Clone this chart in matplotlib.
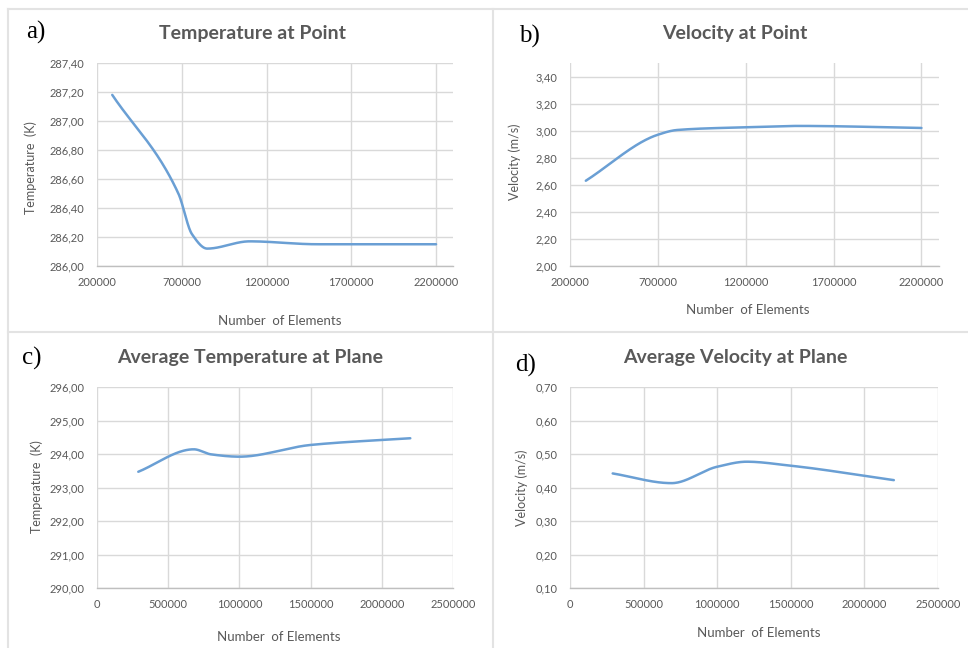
"""
Mesh independence study: four Excel-style line charts in a 2x2 grid.
"""

import numpy as np
import matplotlib
matplotlib.use("Agg")
import matplotlib.pyplot as plt
from matplotlib.lines import Line2D
from matplotlib.ticker import FuncFormatter

elements_a = [290000, 680000, 760000, 850000, 1100000, 1500000, 2200000]
temp_point = [287.18, 286.50, 286.22, 286.12, 286.17, 286.15, 286.15]

elements_b = [290000, 700000, 810000, 1200000, 1500000, 2200000]
vel_point = [2.63, 2.97, 3.005, 3.025, 3.035, 3.02]

elements_c = [290000, 680000, 800000, 1000000, 1500000, 2200000]
temp_plane = [293.47, 294.14, 293.99, 293.92, 294.27, 294.47]

elements_d = [290000, 690000, 1000000, 1200000, 1500000, 2200000]
vel_plane = [0.442, 0.413, 0.462, 0.477, 0.465, 0.422]

titles = ["Temperature at Point", "Velocity at Point",
          "Average Temperature at Plane", "Average Velocity at Plane"]
ylabels = ["Temperature  (K)", "Velocity (m/s)", "Temperature  (K)", "Velocity (m/s)"]
panel_tags = ["a)", "b)", "c)", "d)"]
xticks_ab = [200000, 700000, 1200000, 1700000, 2200000]
xticks_cd = [0, 500000, 1000000, 1500000, 2000000, 2500000]

W, H = 968, 648
GREY = "#595959"
GRID = "#d9d9d9"
BLUE = "#6a9fd4"
FONT = "Lato"


def px_rect(left, top, right, bottom):
    """Pixel box -> figure fraction rect."""
    return [left / W, 1 - bottom / H, (right - left) / W, (bottom - top) / H]


def fig_text(fig, x, y, s, **kw):
    fig.text(x / W, 1 - y / H, s, ha="center", va="center", **kw)


def smooth_line(x, y, n=60):
    """Shape-preserving cubic through the points, for a smoothed line.
    End slopes are taken as the end secants, so the ends stay nearly straight."""
    x = np.asarray(x, float)
    y = np.asarray(y, float)
    h = np.diff(x)
    d = np.diff(y) / h
    m = np.zeros_like(y)
    for k in range(1, len(x) - 1):
        if d[k - 1] * d[k] > 0:
            w1 = 2 * h[k] + h[k - 1]
            w2 = h[k] + 2 * h[k - 1]
            m[k] = (w1 + w2) / (w1 / d[k - 1] + w2 / d[k])
    m[0] = d[0]
    m[-1] = d[-1]

    xs, ys = [], []
    t = np.linspace(0, 1, n)
    for k in range(len(x) - 1):
        h00 = 2 * t**3 - 3 * t**2 + 1
        h10 = t**3 - 2 * t**2 + t
        h01 = -2 * t**3 + 3 * t**2
        h11 = t**3 - t**2
        xs.append(x[k] + t * h[k])
        ys.append(h00 * y[k] + h10 * h[k] * m[k] + h01 * y[k + 1] + h11 * h[k] * m[k + 1])
    return np.concatenate(xs), np.concatenate(ys)


def comma_fmt(v, _):
    return f"{v:.2f}".replace(".", ",")


fig = plt.figure(figsize=(W / 100, H / 100), dpi=100)
fig.patch.set_facecolor("white")

# panel separators
sep = dict(color="#e3e3e3", lw=1.5)
fig.add_artist(Line2D([8 / W, 1], [1 - 9 / H] * 2, **sep))
fig.add_artist(Line2D([8 / W] * 2, [0, 1 - 9 / H], **sep))
fig.add_artist(Line2D([8 / W, 1], [1 - 332 / H] * 2, **sep))
fig.add_artist(Line2D([493 / W] * 2, [0, 1 - 9 / H], **sep))

rects = [px_rect(97, 63, 453, 266), px_rect(570, 63, 939, 266),
         px_rect(97, 387, 453, 588), px_rect(570, 387, 938, 588)]
xdata = [elements_a, elements_b, elements_c, elements_d]
series = [temp_point, vel_point, temp_plane, vel_plane]
xticks = [xticks_ab, xticks_ab, xticks_cd, xticks_cd]
xlims = [(200000, 2300000), (200000, 2300000), (0, 2500000), (0, 2500000)]
ylims = [(286.0, 287.4), (2.0, 3.5), (290.0, 296.0), (0.1, 0.7)]
ysteps = [0.2, 0.2, 1.0, 0.1]
ytop_tick = [287.4, 3.4, 296.0, 0.7]

title_pos = [(252, 33), (735, 33), (250, 357), (735, 357)]
xlabel_pos = [(280, 321), (748, 310), (279, 637), (759, 633)]
ylabel_pos = [(31, 168), (515, 162), (37, 487), (522, 488)]
tag_pos = [(36, 32), (529, 36), (32, 358), (526, 365)]

for i in range(4):
    ax = fig.add_axes(rects[i])
    sx, sy = smooth_line(xdata[i], series[i])
    ax.plot(sx, sy, color=BLUE, lw=1.8, solid_capstyle="round")

    ax.set_xlim(*xlims[i])
    ax.set_ylim(*ylims[i])
    ax.set_xticks(xticks[i])
    lo = ylims[i][0]
    yt = np.arange(lo, ytop_tick[i] + ysteps[i] / 2, ysteps[i])
    ax.set_yticks(yt)
    ax.yaxis.set_major_formatter(FuncFormatter(comma_fmt))
    ax.xaxis.set_major_formatter(FuncFormatter(lambda v, _: f"{int(round(v))}"))

    ax.grid(True, color=GRID, lw=1.0)
    ax.set_axisbelow(True)
    for side in ["top", "right", "left"]:
        ax.spines[side].set_visible(False)
    ax.spines["bottom"].set_color("#bfbfbf")
    ax.spines["bottom"].set_linewidth(1.0)
    ax.tick_params(length=0, labelsize=8, labelcolor=GREY)
    ax.tick_params(axis="y", pad=9)
    ax.tick_params(axis="x", pad=8)
    for lab in ax.get_xticklabels() + ax.get_yticklabels():
        lab.set_fontfamily(FONT)

    fig_text(fig, *title_pos[i], titles[i], fontsize=14, fontweight="bold",
             color=GREY, family=FONT)
    fig_text(fig, *xlabel_pos[i], "Number  of Elements", fontsize=9.5,
             color=GREY, family=FONT)
    fig_text(fig, *ylabel_pos[i], ylabels[i], fontsize=9, color=GREY,
             family=FONT, rotation=90)
    fig_text(fig, *tag_pos[i], panel_tags[i], fontsize=18, color="black",
             family="Liberation Serif")

fig.savefig("out.png", dpi=100, facecolor="white")
